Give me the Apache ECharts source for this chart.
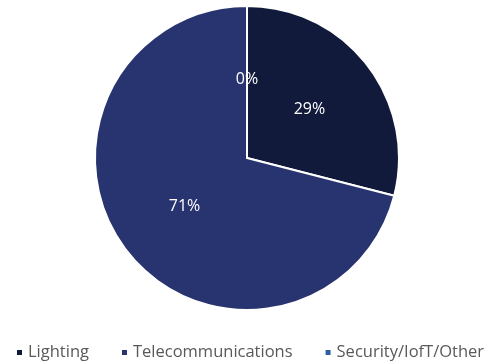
<!DOCTYPE html>
<html>
<head>
<meta charset="utf-8">
<script src="https://cdn.jsdelivr.net/npm/echarts@6/dist/echarts.min.js"></script>
<style>
  html, body { margin: 0; padding: 0; background: #fff; }
  #chart { width: 491px; height: 363px; }
</style>
</head>
<body>
<div id="chart"></div>
<script>
// Share of segments (percent)
const categories = ['Lighting', 'Telecommunications', 'Security/IofT/Other'];
const shares = [29, 71, 0];
const colors = ['#111a3b', '#28346f', '#2c5ea6'];

const chart = echarts.init(document.getElementById('chart'));
chart.setOption({
  animation: false,
  color: colors,
  legend: {
    top: 344,
    left: 15,
    width: 480,
    padding: 0,
    icon: 'rect',
    itemWidth: 7,
    itemHeight: 7,
    itemGap: 31,
    textStyle: { color: '#595959', fontSize: 16.5, fontFamily: 'Open Sans' },
    data: categories
  },
  series: [{
    type: 'pie',
    center: [247, 158],
    radius: [0, 152],
    startAngle: 90,
    clockwise: true,
    minAngle: 0,
    stillShowZeroSum: true,
    avoidLabelOverlap: false,
    itemStyle: { borderColor: '#ffffff', borderWidth: 2 },
    label: {
      show: true,
      position: 'inside',
      color: '#ffffff',
      fontSize: 16,
      fontFamily: 'Open Sans',
      formatter: p => p.value + '%'
    },
    labelLine: { show: false },
    emphasis: { disabled: true },
    data: categories.map((c, i) => ({ name: c, value: shares[i] }))
  }]
});
</script>
</body>
</html>
